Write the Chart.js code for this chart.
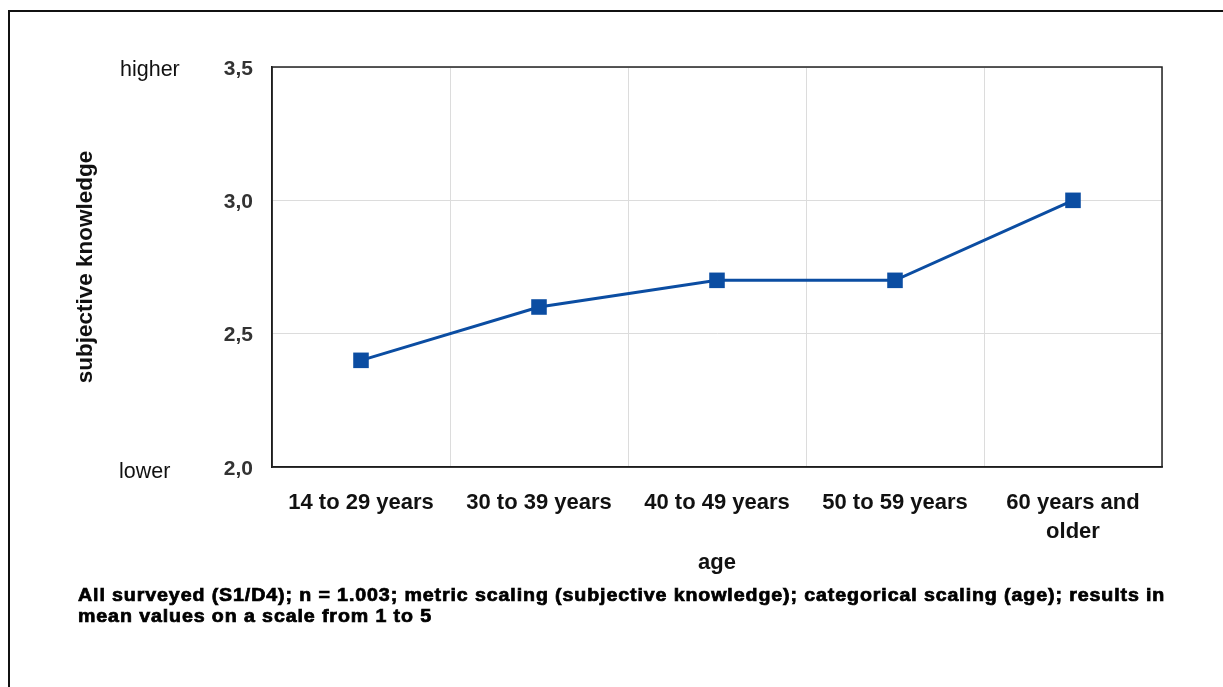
<!DOCTYPE html>
<html>
<head>
<meta charset="utf-8">
<script src="https://cdn.jsdelivr.net/npm/chart.js@4/dist/chart.umd.min.js"></script>
<style>
  html, body { margin: 0; padding: 0; background: #fff; overflow: hidden; }
  #wrap { position: relative; width: 1223px; height: 687px; }
  #frame { position: absolute; left: 8px; top: 10px; width: 1240px; height: 700px; border: 2px solid #111; box-sizing: border-box; }
  #chart { position: absolute; left: 0; top: 0; }
  #note { position: absolute; left: 78px; top: 585px; font-family: "Liberation Sans", Arial, sans-serif; font-weight: bold; font-size: 17.5px; line-height: 21px; letter-spacing: 0.8px; -webkit-text-stroke: 0.7px #000; color: #000; white-space: nowrap; transform: scaleX(1.12); transform-origin: 0 0; }
</style>
</head>
<body>
<div id="wrap">
  <div id="frame"></div>
  <canvas id="chart" width="1223" height="687"></canvas>
  <div id="note">All surveyed (S1/D4); n = 1.003; metric scaling (subjective knowledge); categorical scaling (age); results in<br>mean values on a scale from 1 to 5</div>
</div>
<script>
// データ
const ageGroups = ['14 to 29 years', '30 to 39 years', '40 to 49 years', '50 to 59 years', ['60 years and', 'older']];
const knowledgeMeans = [2.4, 2.6, 2.7, 2.7, 3.0];
const yTicks = [2.0, 2.5, 3.0, 3.5];
const scaleEndLabels = { top: 'higher', bottom: 'lower' };

const lineColor = '#0b4da2';
const fontFamily = '"Liberation Sans", Arial, sans-serif';

// 枠線と higher / lower の描画
const extrasPlugin = {
    id: 'extras',
    afterDraw(chart) {
        const { ctx, chartArea, scales } = chart;
        ctx.save();
        ctx.strokeStyle = '#222';
        ctx.lineWidth = 1.5;
        ctx.strokeRect(chartArea.left, chartArea.top, chartArea.right - chartArea.left, chartArea.bottom - chartArea.top);

        ctx.fillStyle = '#111';
        ctx.font = '21.5px ' + fontFamily;
        ctx.textAlign = 'left';
        ctx.textBaseline = 'middle';
        ctx.fillText(scaleEndLabels.top, 120, scales.y.getPixelForValue(3.5) + 3);
        ctx.fillText(scaleEndLabels.bottom, 119, scales.y.getPixelForValue(2.0) + 5);
        ctx.restore();
    }
};

new Chart(document.getElementById('chart'), {
    type: 'line',
    data: {
        labels: ageGroups,
        datasets: [{
            data: knowledgeMeans,
            borderColor: lineColor,
            backgroundColor: lineColor,
            borderWidth: 3,
            pointStyle: 'rect',
            pointRadius: 11,
            pointBorderWidth: 0,
            tension: 0
        }]
    },
    options: {
        responsive: false,
        animation: false,
        layout: { padding: { left: 70, right: 61, top: 67, bottom: 110 } },
        plugins: {
            legend: { display: false },
            tooltip: { enabled: false }
        },
        scales: {
            x: {
                offset: true,
                grid: { offset: true, color: '#dcdcdc', drawTicks: false },
                border: { color: '#111', width: 1.5 },
                ticks: {
                    autoSkip: false,
                    maxRotation: 0,
                    padding: 22,
                    color: '#111',
                    font: { family: fontFamily, size: 22, weight: 'bold', lineHeight: 1.3 }
                },
                title: {
                    display: true,
                    text: 'age',
                    color: '#111',
                    padding: { top: 6, bottom: 1 },
                    font: { family: fontFamily, size: 22, weight: 'bold' }
                },
                afterFit(scale) { scale.height = 110; }
            },
            y: {
                min: 2.0,
                max: 3.5,
                afterBuildTicks(scale) { scale.ticks = yTicks.map(v => ({ value: v })); },
                grid: { color: '#dcdcdc', drawTicks: false },
                border: { color: '#111', width: 1.5 },
                ticks: {
                    padding: 19,
                    labelOffset: 2,
                    color: '#333',
                    font: { family: fontFamily, size: 21, weight: 'bold' },
                    callback: v => v.toFixed(1).replace('.', ',')
                },
                title: {
                    display: true,
                    text: 'subjective knowledge',
                    color: '#111',
                    padding: { top: 2, bottom: 4 },
                    font: { family: fontFamily, size: 22.5, weight: 'bold' }
                },
                afterFit(scale) { scale.width = 272 - 70; }
            }
        }
    },
    plugins: [extrasPlugin]
});
</script>
</body>
</html>
